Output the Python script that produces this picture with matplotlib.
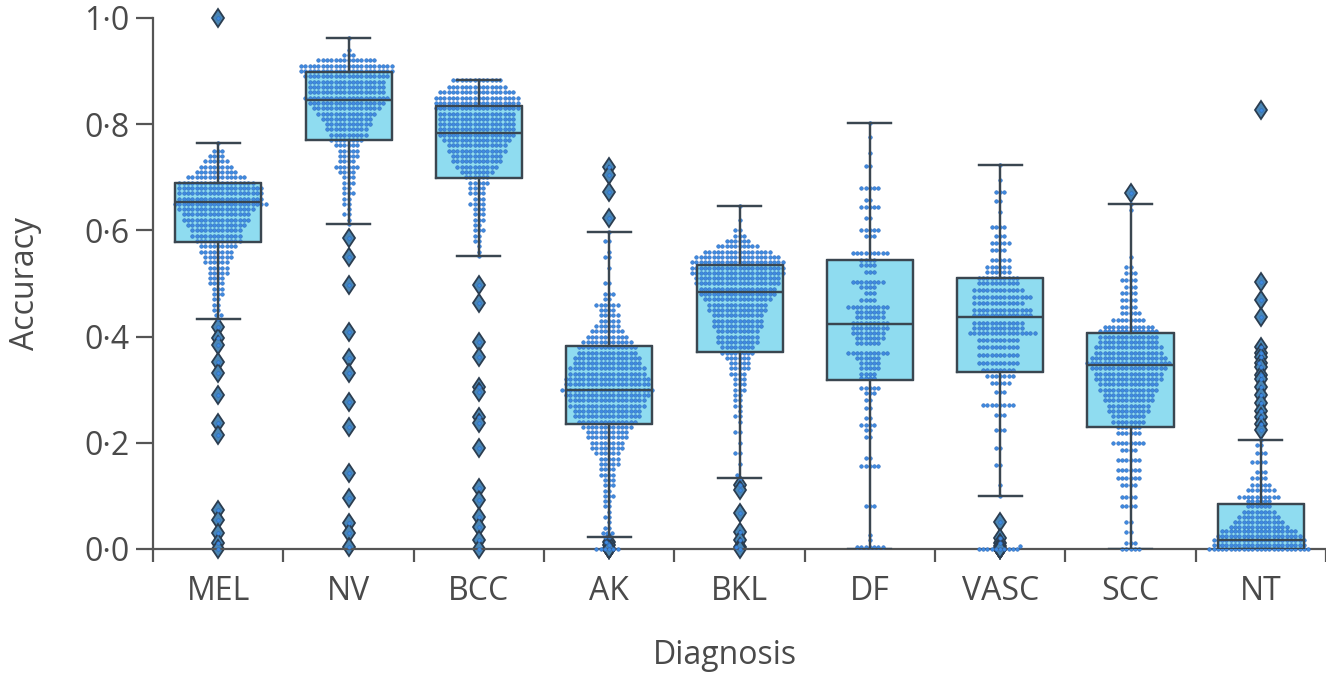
import numpy as np
import pandas as pd
import matplotlib
matplotlib.use("Agg")
import matplotlib.pyplot as plt
import seaborn as sns
import warnings
warnings.filterwarnings("ignore")

# ---------------- data ----------------
cats = ['MEL', 'NV', 'BCC', 'AK', 'BKL', 'DF', 'VASC', 'SCC', 'NT']

q1     = [0.578, 0.770, 0.699, 0.235, 0.371, 0.318, 0.333, 0.230, 0.000]
med    = [0.653, 0.845, 0.783, 0.300, 0.484, 0.424, 0.437, 0.347, 0.017]
q3     = [0.690, 0.898, 0.834, 0.382, 0.535, 0.544, 0.511, 0.407, 0.085]
whislo = [0.433, 0.612, 0.552, 0.023, 0.134, 0.000, 0.100, 0.000, 0.000]
whishi = [0.765, 0.962, 0.883, 0.597, 0.646, 0.802, 0.723, 0.650, 0.205]

mel_fliers = [1.0, 0.418, 0.397, 0.384, 0.352, 0.331, 0.29, 0.237, 0.215, 0.073, 0.055, 0.03, 0.011, 0.0]
nv_fliers = [0.585, 0.55, 0.497, 0.409, 0.36, 0.331, 0.277, 0.23, 0.143, 0.096, 0.049, 0.03, 0.004]
bcc_fliers = [0.497, 0.463, 0.39, 0.362, 0.305, 0.295, 0.249, 0.237, 0.19, 0.115, 0.092, 0.06, 0.041, 0.017, 0.0]
ak_fliers = [0.72, 0.705, 0.673, 0.623, 0.014, 0.008, 0.0, 0.0, 0.0, 0.0, 0.0, 0.0]
bkl_fliers = [0.12, 0.111, 0.068, 0.032, 0.017, 0.004, 0.0]
df_fliers = []
vasc_fliers = [0.05, 0.02, 0.012, 0.006, 0.0, 0.0, 0.0, 0.0, 0.0, 0.0, 0.0, 0.0, 0.0, 0.0]
scc_fliers = [0.67]
nt_fliers = [0.827, 0.503, 0.469, 0.437, 0.38, 0.37, 0.362, 0.35, 0.343, 0.328, 0.32, 0.305,
             0.29, 0.275, 0.26, 0.249, 0.235, 0.224]

# swarm points (values within whiskers) as value / count pairs
mel_vals = [0.765, 0.75, 0.74, 0.73, 0.72, 0.71, 0.70, 0.69, 0.68, 0.67, 0.66, 0.65, 0.64, 0.63, 0.62,
            0.61, 0.60, 0.59, 0.58, 0.57, 0.56, 0.55, 0.54, 0.53, 0.52, 0.51, 0.50, 0.49, 0.48, 0.47,
            0.46, 0.45, 0.44, 0.433]
mel_counts = [1, 3, 4, 6, 8, 10, 14, 18, 20, 20, 20, 22, 18, 16, 16, 14, 12, 12, 11, 9, 8, 7, 6, 5, 5,
              4, 4, 3, 3, 2, 2, 2, 2, 1]

nv_vals = [0.962, 0.94, 0.93, 0.92, 0.91, 0.90, 0.89, 0.88, 0.87, 0.86, 0.85, 0.84, 0.83, 0.82, 0.81,
           0.80, 0.79, 0.78, 0.77, 0.76, 0.75, 0.74, 0.73, 0.72, 0.71, 0.70, 0.69, 0.68, 0.67, 0.66,
           0.65, 0.64, 0.63, 0.62, 0.612]
nv_counts = [1, 1, 3, 14, 22, 22, 20, 18, 18, 18, 20, 18, 16, 14, 12, 11, 10, 9, 8, 6, 5, 5, 4, 6, 4,
             3, 3, 2, 3, 2, 2, 1, 2, 1, 1]

bcc_vals = [0.883, 0.87, 0.86, 0.85, 0.84, 0.83, 0.82, 0.81, 0.80, 0.79, 0.78, 0.77, 0.76, 0.75, 0.74,
            0.73, 0.72, 0.71, 0.70, 0.69, 0.68, 0.67, 0.66, 0.65, 0.64, 0.63, 0.62, 0.61, 0.60, 0.59,
            0.58, 0.57, 0.56, 0.552]
bcc_counts = [12, 14, 18, 20, 20, 20, 18, 18, 18, 18, 18, 16, 14, 14, 12, 12, 10, 8, 6, 5, 4, 4, 3, 4,
              3, 3, 3, 2, 3, 2, 2, 1, 1, 1]

ak_vals = [0.597, 0.58, 0.56, 0.55, 0.53, 0.50, 0.48, 0.47, 0.46, 0.45, 0.44, 0.43, 0.42, 0.41, 0.40,
           0.39, 0.38, 0.37, 0.36, 0.35, 0.34, 0.33, 0.32, 0.31, 0.30, 0.29, 0.28, 0.27, 0.26, 0.25,
           0.24, 0.23, 0.22, 0.21, 0.20, 0.19, 0.18, 0.17, 0.16, 0.15, 0.14, 0.13, 0.12, 0.11, 0.10,
           0.09, 0.08, 0.07, 0.06, 0.05, 0.04, 0.03, 0.023]
ak_counts = [1, 2, 1, 2, 1, 2, 3, 2, 6, 4, 5, 5, 6, 8, 10, 12, 14, 14, 16, 16, 18, 18, 20, 20, 22, 20,
             18, 18, 16, 16, 14, 12, 10, 10, 8, 8, 6, 5, 5, 4, 4, 3, 3, 2, 3, 2, 2, 1, 2, 1, 2, 3, 2]

bkl_vals = [0.646, 0.62, 0.60, 0.59, 0.58, 0.57, 0.56, 0.55, 0.54, 0.53, 0.52, 0.51, 0.50, 0.49, 0.48,
            0.47, 0.46, 0.45, 0.44, 0.43, 0.42, 0.41, 0.40, 0.39, 0.38, 0.37, 0.36, 0.35, 0.34, 0.33,
            0.32, 0.31, 0.30, 0.29, 0.28, 0.27, 0.26, 0.25, 0.24, 0.22, 0.20, 0.18, 0.16, 0.14, 0.134]
bkl_counts = [1, 1, 2, 3, 6, 10, 16, 20, 22, 22, 22, 20, 20, 18, 18, 16, 14, 14, 12, 12, 12, 10, 10,
              10, 8, 8, 6, 5, 5, 4, 3, 3, 3, 2, 2, 2, 1, 2, 1, 2, 1, 2, 1, 1, 1]

df_vals = [0.802, 0.776, 0.745, 0.722, 0.68, 0.657, 0.644, 0.623, 0.60, 0.59, 0.557, 0.544, 0.535,
           0.522, 0.503, 0.494, 0.482, 0.469, 0.456, 0.446, 0.437, 0.426, 0.416, 0.407, 0.397, 0.388,
           0.369, 0.36, 0.35, 0.341, 0.33, 0.322, 0.303, 0.293, 0.28, 0.265, 0.247, 0.234, 0.225,
           0.21, 0.171, 0.156, 0.08, 0.026, 0.017, 0.004]
df_counts = [1, 1, 1, 2, 5, 2, 5, 2, 5, 3, 9, 4, 4, 3, 8, 4, 3, 4, 10, 7, 7, 9, 9, 8, 7, 6, 10, 6, 5, 5,
             4, 4, 5, 3, 2, 2, 2, 4, 2, 2, 2, 5, 3, 1, 1, 7]

vasc_vals = [0.723, 0.695, 0.672, 0.655, 0.634, 0.607, 0.59, 0.576, 0.563, 0.544, 0.531, 0.522, 0.51,
             0.50, 0.488, 0.475, 0.463, 0.45, 0.44, 0.426, 0.416, 0.407, 0.394, 0.38, 0.365, 0.35,
             0.337, 0.325, 0.312, 0.296, 0.271, 0.252, 0.224, 0.19, 0.158, 0.12, 0.10]
vasc_counts = [1, 1, 3, 2, 1, 4, 3, 5, 4, 5, 6, 6, 10, 10, 12, 14, 12, 14, 14, 12, 12, 16, 10, 10, 10,
               10, 8, 7, 5, 3, 8, 3, 3, 2, 2, 1, 1]

scc_vals = [0.65, 0.638, 0.55, 0.531, 0.52, 0.507, 0.494, 0.482, 0.469, 0.456, 0.444, 0.431, 0.418,
            0.41, 0.40, 0.39, 0.38, 0.37, 0.36, 0.35, 0.34, 0.33, 0.32, 0.31, 0.30, 0.29, 0.28, 0.27,
            0.26, 0.25, 0.24, 0.23, 0.218, 0.20, 0.186, 0.168, 0.149, 0.134, 0.12, 0.098, 0.08, 0.05,
            0.032, 0.011, 0.0]
scc_counts = [1, 1, 1, 2, 3, 4, 3, 4, 4, 4, 5, 8, 12, 14, 14, 14, 16, 16, 18, 20, 18, 16, 16, 14, 14,
              12, 12, 10, 10, 8, 8, 6, 6, 8, 4, 6, 6, 6, 4, 4, 4, 2, 2, 3, 5]

nt_vals = [0.205, 0.196, 0.18, 0.164, 0.145, 0.134, 0.12, 0.111, 0.098, 0.09, 0.08, 0.07, 0.06, 0.05,
           0.041, 0.033, 0.025, 0.017, 0.008, 0.0]
nt_counts = [1, 2, 3, 4, 3, 4, 5, 7, 10, 6, 6, 8, 10, 12, 14, 18, 20, 22, 22, 24]

ytick_vals = [0.0, 0.2, 0.4, 0.6, 0.8, 1.0]
ytick_labels = ['0·0', '0·2', '0·4', '0·6', '0·8', '1·0']

# ---------------- styling ----------------
BOX_FC = '#8fdcf0'
LINE = '#3a4650'
DOT = '#3f8ae0'
DOT_EC = '#2a68bb'
FLIER_FC = '#4a86b5'
FLIER_EC = '#2b3d50'
SPINE = '#555555'
TEXT = '#4a4a4a'
FS = 23

plt.rcParams['font.family'] = ['Open Sans', 'DejaVu Sans']

fig = plt.figure(figsize=(13.26, 6.76), dpi=100)
ax = fig.add_axes([0.1154, 0.1879, 0.8846, 0.7855])

fliers = [mel_fliers, nv_fliers, bcc_fliers, ak_fliers, bkl_fliers, df_fliers,
          vasc_fliers, scc_fliers, nt_fliers]
vals = [mel_vals, nv_vals, bcc_vals, ak_vals, bkl_vals, df_vals, vasc_vals, scc_vals, nt_vals]
counts = [mel_counts, nv_counts, bcc_counts, ak_counts, bkl_counts, df_counts,
          vasc_counts, scc_counts, nt_counts]

stats = []
for i, c in enumerate(cats):
    stats.append(dict(label=c, q1=q1[i], med=med[i], q3=q3[i],
                      whislo=whislo[i], whishi=whishi[i], fliers=fliers[i]))

pos = np.arange(len(cats))
lw = 1.6
# base layer: filled boxes + fliers
ax.bxp(stats, positions=pos, widths=0.66, patch_artist=True, showfliers=True,
       manage_ticks=False, zorder=1,
       boxprops=dict(facecolor=BOX_FC, edgecolor=LINE, linewidth=lw),
       whiskerprops=dict(color=LINE, linewidth=lw),
       capprops=dict(color=LINE, linewidth=lw),
       medianprops=dict(color=LINE, linewidth=lw),
       flierprops=dict(marker='d', markersize=9.5, markerfacecolor=FLIER_FC,
                       markeredgecolor=FLIER_EC, markeredgewidth=1.3, linestyle='none',
                       zorder=2, clip_on=False))

# swarm of all points
rows = []
for i, c in enumerate(cats):
    v = list(np.repeat(vals[i], counts[i])) + list(fliers[i])
    rows += [(c, x) for x in v]
df = pd.DataFrame(rows, columns=['cat', 'val'])
sns.swarmplot(data=df, x='cat', y='val', order=cats, size=2.6, color=DOT,
              edgecolor=DOT_EC, linewidth=0.35, ax=ax, zorder=3, clip_on=False)

# top layer: outlines, whiskers, caps, medians
ax.bxp(stats, positions=pos, widths=0.66, patch_artist=False, showfliers=False,
       manage_ticks=False, zorder=4,
       boxprops=dict(color=LINE, linewidth=lw),
       whiskerprops=dict(color=LINE, linewidth=lw),
       capprops=dict(color=LINE, linewidth=lw),
       medianprops=dict(color=LINE, linewidth=lw))

ax.set_xlim(-0.5, len(cats) - 0.5)
ax.set_ylim(0, 1.0)

for s in ['top', 'right']:
    ax.spines[s].set_visible(False)
for s in ['left', 'bottom']:
    ax.spines[s].set_color(SPINE)
    ax.spines[s].set_linewidth(lw)

ax.set_yticks(ytick_vals)
ax.set_yticklabels(ytick_labels)
ax.set_xticks(pos)
ax.set_xticklabels(cats)
ax.set_xticks(np.arange(len(cats) + 1) - 0.5, minor=True)
ax.tick_params(axis='y', direction='out', length=12, width=lw, color=SPINE,
               labelsize=FS, labelcolor=TEXT, pad=5)
ax.tick_params(axis='x', which='major', length=0, labelsize=FS, labelcolor=TEXT, pad=19)
ax.tick_params(axis='x', which='minor', direction='out', length=9, width=lw, color=SPINE)
ax.set_xlabel('')
ax.set_ylabel('')

fig.text(25 / 1326, 1 - 284 / 676, 'Accuracy', rotation=90, ha='center', va='center',
         fontsize=FS, color=TEXT)
fig.text(725 / 1326, 1 - 655 / 676, 'Diagnosis', ha='center', va='center',
         fontsize=FS, color=TEXT)

fig.savefig('out.png', dpi=100)
